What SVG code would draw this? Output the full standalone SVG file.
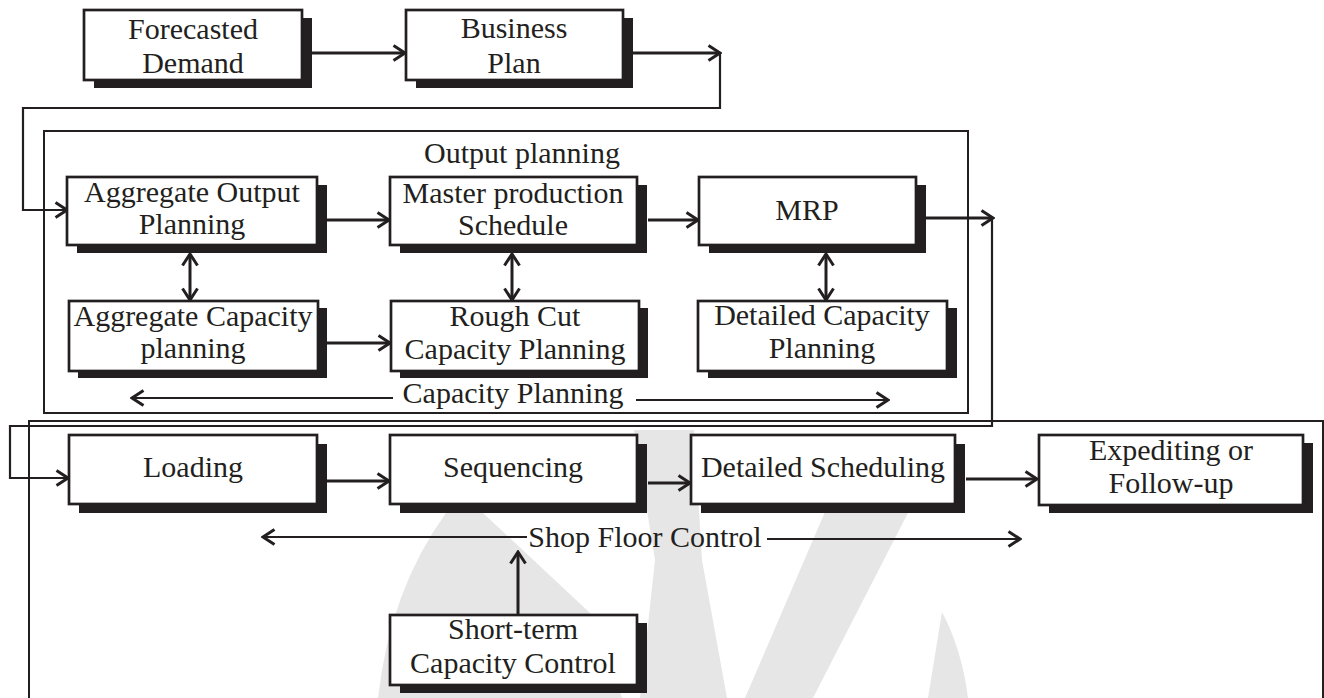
<svg xmlns="http://www.w3.org/2000/svg" width="1324" height="698" viewBox="0 0 1324 698">
  <defs>
    <style>
      .box { fill: #ffffff; stroke: #231f20; stroke-width: 2.7; }
      .shadow { fill: #231f20; }
      .t { font-family: "Liberation Serif", "Times New Roman", serif; font-size: 30px; fill: #231f20; text-anchor: middle; }
      .c { fill: none; stroke: #231f20; stroke-width: 3; }
      .c2 { fill: none; stroke: #231f20; stroke-width: 2.2; }
      .frame { fill: none; stroke: #231f20; stroke-width: 2; }
      .wm { fill: #e6e6e6; }
    </style>
    <marker id="ah" viewBox="0 0 15 18" refX="13" refY="9" markerWidth="15" markerHeight="18" markerUnits="userSpaceOnUse" orient="auto-start-reverse">
      <path d="M1.5,1.5 L13,9 L1.5,16.5" fill="none" stroke="#231f20" stroke-width="3"/>
    </marker>
  </defs>
  <rect width="1324" height="698" fill="#ffffff"/>

  <!-- watermark (approximate) -->
  <g id="watermark">
    <path class="wm" d="M446,513 L483,513 L590,613 L622,698 L378,698 Q390,590 446,513 Z"/>
    <path class="wm" d="M634,430 L694,430 L702,560 L727,698 L640,698 L655,560 Z"/>
    <path class="wm" d="M828,505 L912,505 L813,698 L745,698 Z"/>
    <path class="wm" d="M942,612 Q962,650 968,698 L928,698 Z"/>
  </g>

  <!-- frames -->
  <g id="output-planning">
    <rect class="frame" x="44" y="131" width="924" height="282"/>
    <text class="t" x="522" y="163">Output planning</text>
  </g>
  <g id="shop-floor">
    <path class="frame" d="M29,700 V421 H1323 V700"/>
  </g>

  <!-- connectors -->
  <g id="connectors">
    <path class="c" d="M312,53 H405" marker-end="url(#ah)"/>
    <path class="c" d="M633,53 H720" marker-end="url(#ah)"/>
    <path class="c2" d="M720,53 V108 H23 V210 H67" marker-end="url(#ah)"/>
    <path class="c" d="M327,220 H389" marker-end="url(#ah)"/>
    <path class="c" d="M648,220 H698" marker-end="url(#ah)"/>
    <path class="c" d="M926,218 H993" marker-end="url(#ah)"/>
    <path class="c2" d="M992,218 V426 H10 V478 H68" marker-end="url(#ah)"/>
    <path class="c" d="M327,343 H390" marker-end="url(#ah)"/>
    <path class="c" d="M190,254 V300" marker-start="url(#ah)" marker-end="url(#ah)"/>
    <path class="c" d="M512,254 V300" marker-start="url(#ah)" marker-end="url(#ah)"/>
    <path class="c" d="M826,254 V300" marker-start="url(#ah)" marker-end="url(#ah)"/>
    <path class="c2" d="M393,398 H132" marker-end="url(#ah)"/>
    <path class="c2" d="M636,400 H888" marker-end="url(#ah)"/>
    <path class="c" d="M327,481 H389" marker-end="url(#ah)"/>
    <path class="c" d="M648,483 H690" marker-end="url(#ah)"/>
    <path class="c" d="M966,479 H1037" marker-end="url(#ah)"/>
    <path class="c2" d="M527,537 H263" marker-end="url(#ah)"/>
    <path class="c2" d="M767,539 H1020" marker-end="url(#ah)"/>
    <path class="c" d="M518,615 V552" marker-end="url(#ah)"/>
  </g>
  <text class="t" x="513" y="403">Capacity Planning</text>
  <text class="t" x="645" y="547">Shop Floor Control</text>

  <!-- nodes -->
  <g id="forecasted-demand">
    <rect class="shadow" x="94" y="18" width="218" height="70"/>
    <rect class="box" x="84" y="10" width="218" height="70"/>
    <text class="t" x="193" y="39">Forecasted</text>
    <text class="t" x="193" y="73">Demand</text>
  </g>
  <g id="business-plan">
    <rect class="shadow" x="416" y="18" width="217" height="70"/>
    <rect class="box" x="406" y="10" width="217" height="70"/>
    <text class="t" x="514" y="38">Business</text>
    <text class="t" x="514" y="73">Plan</text>
  </g>
  <g id="aggregate-output-planning">
    <rect class="shadow" x="77" y="185" width="250" height="68"/>
    <rect class="box" x="67" y="177" width="250" height="68"/>
    <text class="t" x="192" y="202">Aggregate Output</text>
    <text class="t" x="192" y="234">Planning</text>
  </g>
  <g id="master-production-schedule">
    <rect class="shadow" x="400" y="185" width="247" height="68"/>
    <rect class="box" x="390" y="177" width="247" height="68"/>
    <text class="t" x="513" y="203">Master production</text>
    <text class="t" x="513" y="235">Schedule</text>
  </g>
  <g id="mrp">
    <rect class="shadow" x="709" y="185" width="217" height="68"/>
    <rect class="box" x="699" y="177" width="217" height="68"/>
    <text class="t" x="807" y="220">MRP</text>
  </g>
  <g id="aggregate-capacity-planning">
    <rect class="shadow" x="78" y="308" width="249" height="70"/>
    <rect class="box" x="69" y="301" width="249" height="70"/>
    <text class="t" x="193" y="326">Aggregate Capacity</text>
    <text class="t" x="193" y="358">planning</text>
  </g>
  <g id="rough-cut-capacity-planning">
    <rect class="shadow" x="400" y="308" width="248" height="70"/>
    <rect class="box" x="391" y="301" width="248" height="70"/>
    <text class="t" x="515" y="326">Rough Cut</text>
    <text class="t" x="515" y="359">Capacity Planning</text>
  </g>
  <g id="detailed-capacity-planning">
    <rect class="shadow" x="708" y="308" width="249" height="70"/>
    <rect class="box" x="698" y="301" width="249" height="70"/>
    <text class="t" x="822" y="325">Detailed Capacity</text>
    <text class="t" x="822" y="358">Planning</text>
  </g>
  <g id="loading">
    <rect class="shadow" x="79" y="444" width="248" height="69"/>
    <rect class="box" x="69" y="435" width="248" height="69"/>
    <text class="t" x="193" y="477">Loading</text>
  </g>
  <g id="sequencing">
    <rect class="shadow" x="400" y="444" width="247" height="69"/>
    <rect class="box" x="390" y="435" width="247" height="69"/>
    <text class="t" x="513" y="477">Sequencing</text>
  </g>
  <g id="detailed-scheduling">
    <rect class="shadow" x="701" y="444" width="264" height="69"/>
    <rect class="box" x="691" y="435" width="264" height="69"/>
    <text class="t" x="823" y="477">Detailed Scheduling</text>
  </g>
  <g id="expediting">
    <rect class="shadow" x="1049" y="443" width="264" height="70"/>
    <rect class="box" x="1039" y="435" width="264" height="70"/>
    <text class="t" x="1171" y="460">Expediting or</text>
    <text class="t" x="1171" y="493">Follow-up</text>
  </g>
  <g id="short-term-capacity-control">
    <rect class="shadow" x="400" y="623" width="247" height="70"/>
    <rect class="box" x="390" y="615" width="247" height="70"/>
    <text class="t" x="513" y="639">Short-term</text>
    <text class="t" x="513" y="673">Capacity Control</text>
  </g>
</svg>
